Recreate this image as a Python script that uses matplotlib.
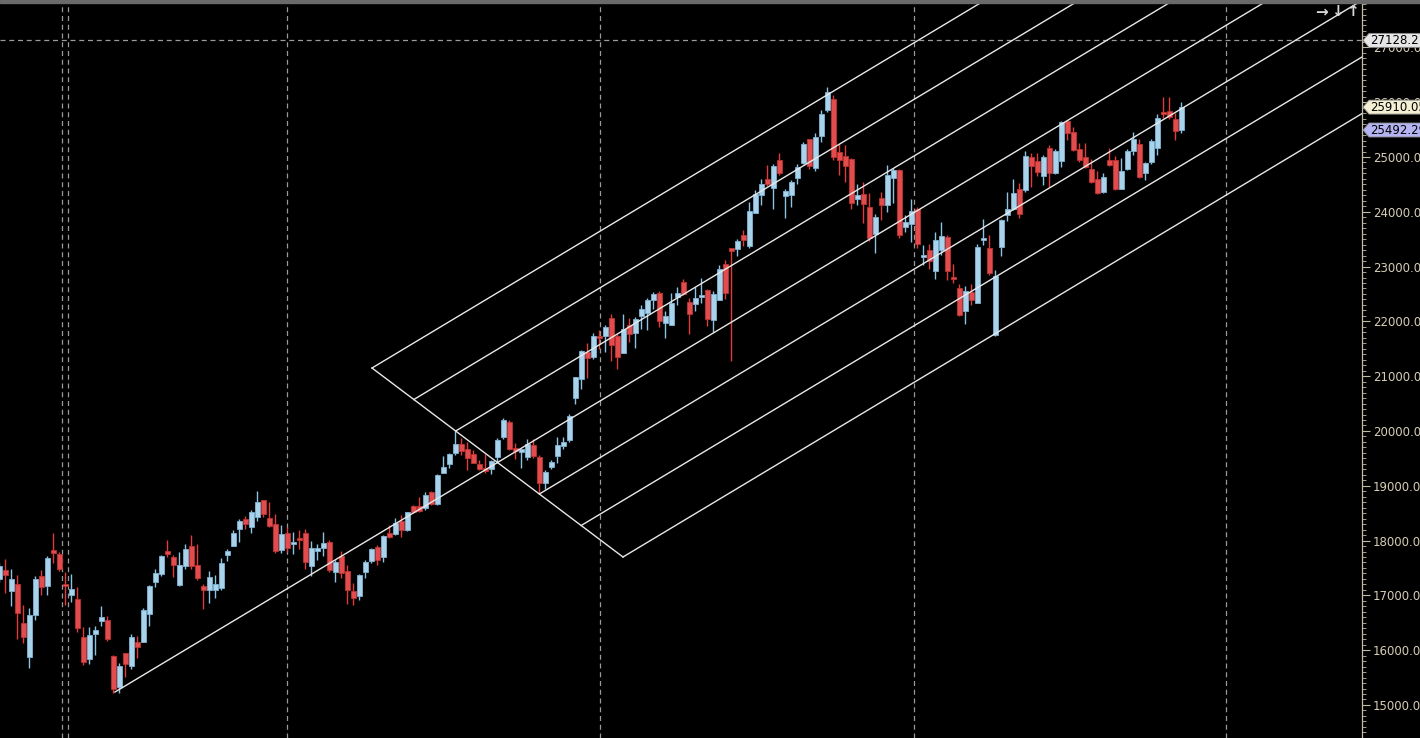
import numpy as np
import matplotlib.pyplot as plt
import matplotlib.transforms as mtransforms
from matplotlib.patches import Polygon, Rectangle
from matplotlib.ticker import MultipleLocator, FormatStrFormatter

# daily candles, oldest first (first one is cut by the left edge)
opens = [17298, 17462, 17079, 17207, 16495, 15875, 16641, 17353, 17170, 17827,
         17754, 17207, 17006, 16933, 16240, 15838, 16294, 16532, 16550, 15893,
         15327, 15948, 15710, 16148, 16148, 16659, 17243, 17389, 17809, 17700,
         17189, 17535, 17900, 17554, 17170, 17097, 17097, 17134, 17736, 17900,
         18211, 18393, 18247, 18430, 18740, 18411, 18302, 17827, 18138, 17937,
         18046, 18138, 17535, 17809, 17864, 17973, 17426, 17718, 17444, 17079,
         16988, 17426, 17627, 17882, 17700, 18138, 18119, 18357, 18192, 18630,
         18630, 18594, 18886, 18667, 19233, 19397, 19598, 19762, 19671, 19579,
         19397, 19324, 19306, 19525, 19890, 20163, 19689, 19616, 19525, 19744,
         19525, 19050, 19342, 19543, 19725, 19835, 20601, 20948, 21441, 21350,
         21733, 21733, 22061, 21733, 21423, 21934, 21788, 22098, 22153, 22390,
         22518, 21970, 21934, 22445, 22718, 22353, 22317, 22445, 22572, 22025,
         22390, 23047, 23339, 23321, 23576, 23375, 23978, 24306, 24598, 24434,
         24945, 24288, 24306, 24616, 24890, 25328, 24799, 25383, 25857, 26058,
         25091, 25018, 24963, 24233, 24324, 24087, 23594, 24251, 24124, 24616,
         24762, 23722, 23777, 24051, 23175, 23302, 22919, 23302, 23540, 22810,
         22609, 22189, 22536, 22335, 23485, 23339, 21751, 23357, 23941, 24051,
         24416, 24397, 25000, 24927, 24653, 25164, 24708, 24927, 25656, 25456,
         25146, 25000, 24781, 24598, 24361, 24945, 24945, 24416, 24781, 25109,
         25237, 24708, 24908, 25164, 25821, 25839, 25693, 25492.29]
highs = [17590, 17663, 17481, 17371, 16824, 16769, 17353, 17462, 17718, 18138,
         17791, 17426, 17389, 17152, 16422, 16422, 16440, 16805, 16623, 15911,
         15765, 15948, 16294, 16258, 16769, 17189, 17481, 17736, 18010, 17736,
         17791, 17937, 18101, 17937, 17207, 17444, 17371, 17681, 17846, 18192,
         18393, 18448, 18557, 18904, 18740, 18703, 18484, 18284, 18247, 18156,
         18192, 18211, 17992, 17937, 18156, 18010, 17645, 17809, 17554, 17225,
         17389, 17645, 17864, 17919, 18101, 18284, 18411, 18466, 18521, 18649,
         18795, 18886, 18904, 19215, 19543, 19598, 19999, 19871, 19798, 19652,
         19470, 19579, 19470, 19871, 20236, 20200, 19780, 19671, 19853, 19853,
         19561, 19287, 19470, 19890, 19890, 20309, 20985, 21477, 21605, 21788,
         21842, 21934, 22134, 21769, 22134, 22061, 22080, 22299, 22427, 22536,
         22554, 22189, 22518, 22627, 22773, 22427, 22627, 22791, 22591, 22554,
         23029, 23120, 23339, 23503, 23667, 24178, 24397, 24598, 24854, 24872,
         25073, 24416, 24580, 24872, 25273, 25328, 25438, 25857, 26277, 26131,
         25237, 25219, 24982, 24507, 24543, 24343, 23959, 24361, 24854, 24799,
         24781, 23941, 24233, 24087, 23393, 23412, 23631, 23813, 23576, 23047,
         22682, 22645, 22682, 23412, 23868, 23576, 22937, 23868, 24361, 24598,
         24525, 25109, 25073, 25073, 25036, 25219, 25146, 25656, 25675, 25547,
         25255, 25255, 24963, 24744, 24708, 25164, 25018, 24982, 25146, 25456,
         25328, 24908, 25328, 25784, 26095, 26095, 25803, 26003]
lows = [17243, 17043, 16805, 16203, 16130, 15674, 16550, 17006, 17006, 17590,
        17444, 16824, 16878, 16331, 15729, 15747, 15911, 16440, 16167, 15218,
        15218, 15510, 15656, 15856, 16148, 16440, 17152, 17353, 17700, 17335,
        17170, 17481, 17481, 17280, 16751, 16860, 16951, 17097, 17627, 17900,
        17973, 18211, 18138, 18357, 18430, 18247, 17773, 17773, 17791, 17754,
        17846, 17481, 17353, 17645, 17718, 17426, 17243, 17316, 16842, 16824,
        16915, 17316, 17590, 17554, 17608, 18046, 18101, 18065, 18174, 18503,
        18521, 18557, 18649, 18649, 19233, 19324, 19561, 19561, 19287, 19415,
        19287, 19233, 19215, 19415, 19853, 19652, 19488, 19324, 19470, 19506,
        18868, 18941, 19306, 19415, 19671, 19798, 20492, 20766, 20966, 21313,
        21496, 21441, 21277, 21131, 21423, 21623, 21514, 21861, 21842, 22226,
        21897, 21696, 21934, 22299, 22481, 21769, 22189, 22335, 21915, 21806,
        22390, 22408, 21277, 23193, 23375, 23339, 23978, 24124, 24470, 24051,
        24671, 23886, 24087, 24507, 24872, 24781, 24744, 25273, 25821, 24945,
        24671, 24543, 24051, 24124, 23795, 23467, 23248, 23850, 23996, 24160,
        23521, 23631, 23448, 23339, 23029, 22956, 22773, 23211, 22755, 22700,
        22098, 21952, 22299, 22335, 23393, 22846, 21733, 23193, 23832, 24032,
        23886, 24361, 24452, 24653, 24489, 24452, 24690, 24817, 25310, 25109,
        24908, 24799, 24525, 24324, 24343, 24835, 24397, 24416, 24762, 25036,
        24616, 24580, 24872, 25036, 25711, 25693, 25310, 25438]
closes = [17535, 17371, 17298, 16678, 16240, 16641, 17298, 17152, 17681, 17773,
          17481, 17170, 17116, 16404, 15783, 16276, 16367, 16605, 16203, 15291,
          15710, 15747, 16240, 16057, 16732, 17170, 17408, 17718, 17754, 17554,
          17554, 17846, 17535, 17316, 17097, 17335, 17207, 17590, 17809, 18138,
          18357, 18302, 18521, 18703, 18484, 18265, 17809, 18119, 17864, 17973,
          18010, 17608, 17864, 17864, 17955, 17462, 17608, 17408, 17097, 16951,
          17371, 17608, 17846, 17645, 18083, 18065, 18320, 18192, 18521, 18521,
          18539, 18831, 18667, 19196, 19343, 19579, 19762, 19634, 19506, 19415,
          19306, 19269, 19452, 19835, 20200, 19671, 19634, 19671, 19762, 19543,
          19050, 19251, 19433, 19744, 19798, 20273, 20985, 21459, 21331, 21733,
          21696, 21897, 21569, 21350, 21861, 21769, 22043, 22226, 22390, 22499,
          22007, 22098, 22335, 22518, 22499, 22134, 22427, 22481, 22043, 22499,
          22956, 22518, 23284, 23467, 23485, 24014, 24324, 24507, 24507, 24835,
          24708, 24379, 24543, 24817, 25237, 24835, 25365, 25784, 26186, 25000,
          24945, 24835, 24160, 24306, 24142, 23521, 23905, 24124, 24671, 24762,
          23576, 23813, 24014, 23412, 23211, 23102, 23485, 23558, 22919, 22773,
          22116, 22554, 22390, 23357, 23521, 22883, 22828, 23850, 24051, 24343,
          23959, 25018, 24835, 24726, 25000, 24708, 25109, 25638, 25438, 25127,
          24945, 24817, 24543, 24343, 24635, 24854, 24416, 24744, 25109, 25328,
          24635, 24890, 25292, 25711, 25784, 25730, 25474, 25910.05]

# pitchfork handles (bar number, price)
fork_p1 = (19.28, 15236)
fork_p2 = (62.12, 21149)
fork_p3 = (103.95, 17700)
fork_levels = 6

grid_bars = [10.5, 11.5, 48.0, 100.17, 152.45, 204.45]
marked_price = 27128.21
price_tags = [(27128.21, '#e6e6e6'), (25910.05, '#f2efd2'), (25492.29, '#b4b4f2')]

bg = 'black'
axcol = '#c4bca4'
up_col, up_edge = '#a9d3eb', '#7fb4d6'
dn_col, dn_edge = '#e24c4c', '#c23232'

fig = plt.figure(figsize=(14.2, 7.38), dpi=100, facecolor=bg)
ax = fig.add_axes([0, 0, 1362 / 1420, 735 / 738])
ax.set_facecolor(bg)

o = np.array(opens, float)
h = np.array(highs, float)
l = np.array(lows, float)
c = np.array(closes, float)
x = np.arange(len(o))
up = c >= o
dn = ~up

# grid
for gx in grid_bars:
    ax.axvline(gx, color='#9a9a9a', lw=0.9, ls=(0, (4, 3)), zorder=1)
ax.axhline(marked_price, color='#9a9a9a', lw=0.9, ls=(0, (4, 3)), zorder=1)

# candles
ax.vlines(x[up], l[up], h[up], color='#8cc2e2', lw=1.0, zorder=3)
ax.vlines(x[dn], l[dn], h[dn], color='#e03c3c', lw=1.0, zorder=3)
ax.bar(x[up], np.maximum(c[up] - o[up], 30), bottom=o[up], width=0.78,
       color=up_col, edgecolor=up_edge, lw=0.6, zorder=4)
ax.bar(x[dn], np.maximum(o[dn] - c[dn], 30), bottom=c[dn], width=0.78,
       color=dn_col, edgecolor=dn_edge, lw=0.6, zorder=4)

# pitchfork lines
x_end = 240
p1 = np.array(fork_p1)
p2 = np.array(fork_p2)
p3 = np.array(fork_p3)
mid = (p2 + p3) / 2
slope = (mid[1] - p1[1]) / (mid[0] - p1[0])
lc = '#e8e8e8'
ax.plot([p2[0], p3[0]], [p2[1], p3[1]], color=lc, lw=1.0, zorder=5)
for i in range(fork_levels + 1):
    s = p2 + (p3 - p2) * i / fork_levels
    if i == fork_levels // 2:
        s = p1
    ax.plot([s[0], x_end], [s[1], s[1] + slope * (x_end - s[0])],
            color=lc, lw=1.0, zorder=5)

ax.set_xlim(0.117, 227.12)
ax.set_ylim(14397, 27810)

# price axis on the right
ax.yaxis.tick_right()
ax.yaxis.set_major_locator(MultipleLocator(1000))
ax.yaxis.set_minor_locator(MultipleLocator(100))
ax.yaxis.set_major_formatter(FormatStrFormatter('%.2f'))
ax.tick_params(axis='y', which='major', length=6, width=0.8, color=axcol,
               labelcolor='#d6ceb6', labelsize=8.5, pad=2)
ax.tick_params(axis='y', which='minor', length=3, width=0.6, color=axcol)
ax.set_xticks([])
for side in ['left', 'top', 'bottom']:
    ax.spines[side].set_visible(False)
ax.spines['right'].set_color(axcol)
ax.spines['right'].set_linewidth(0.9)

# price tags
tr = mtransforms.blended_transform_factory(ax.transAxes, ax.transData)
px = 1 / 1362
half = 7 * 18.25
for price, col in price_tags:
    pts = [(1 + 1 * px, price), (1 + 7 * px, price + half), (1 + 70 * px, price + half),
           (1 + 70 * px, price - half), (1 + 7 * px, price - half)]
    ax.add_patch(Polygon(pts, closed=True, transform=tr, facecolor=col,
                         edgecolor='#888888', lw=0.6, clip_on=False, zorder=10))
    ax.text(1 + 8 * px, price, f'{price:.2f}', transform=tr, ha='left', va='center',
            fontsize=8.5, color='black', clip_on=False, zorder=11)

# top bar and corner arrows
fig.patches.append(Rectangle((0, 1 - 3 / 738), 1, 3 / 738, transform=fig.transFigure,
                             color='#6a6a6a', zorder=0))
for sym, xp in [('→', 1322), ('↓', 1337), ('↑', 1352)]:
    fig.text(xp / 1420, 1 - 12 / 738, sym, ha='center', va='center', fontsize=11,
             fontweight='bold', color='#d8d8d8')

fig.savefig('out.png', dpi=100, facecolor=bg)
